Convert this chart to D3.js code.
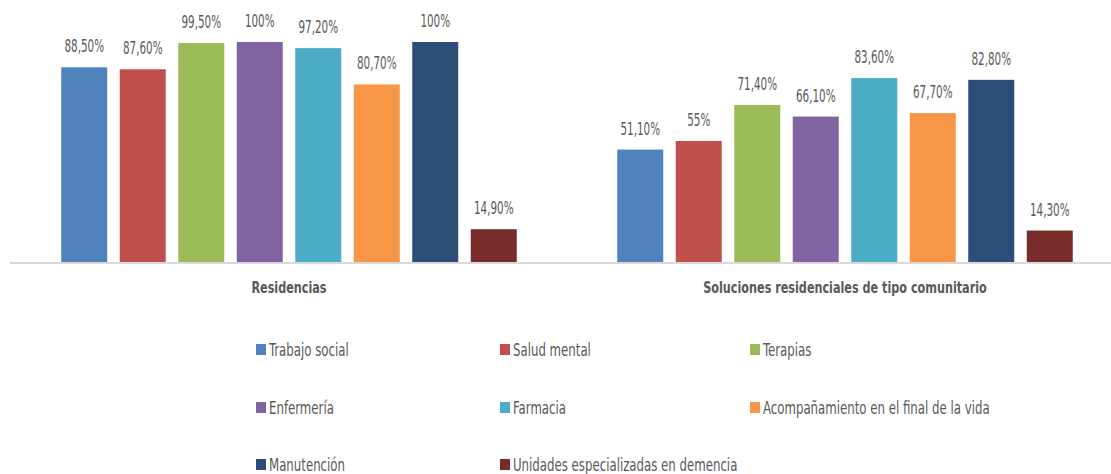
<!DOCTYPE html>
<html>
<head>
<meta charset="utf-8">
<script src="https://cdn.jsdelivr.net/npm/d3@7"></script>
<style>
  html, body { margin: 0; padding: 0; background: #fff; }
  svg text { font-family: 'Liberation Sans Narrow', 'DejaVu Sans Condensed', 'Arial Narrow', sans-serif; fill: #595959; }
</style>
</head>
<body>
<svg id="chart" width="1111" height="474"></svg>
<script>
// Settings (groups along the x axis)
const groups = ["Residencias", "Soluciones residenciales de tipo comunitario"];

// Services offered (legend entries / series)
const series = [
  "Trabajo social",
  "Salud mental",
  "Terapias",
  "Enfermería",
  "Farmacia",
  "Acompañamiento en el final de la vida",
  "Manutención",
  "Unidades especializadas en demencia"
];

// Percentage of centres offering each service, per group
const residencias = [88.5, 87.6, 99.5, 100, 97.2, 80.7, 100, 14.9];
const comunitario = [51.1, 55, 71.4, 66.1, 83.6, 67.7, 82.8, 14.3];

// Value labels as printed
const labelsResidencias = ["88,50%", "87,60%", "99,50%", "100%", "97,20%", "80,70%", "100%", "14,90%"];
const labelsComunitario = ["51,10%", "55%", "71,40%", "66,10%", "83,60%", "67,70%", "82,80%", "14,30%"];

const colors = ["#4F81BD", "#C0504D", "#9BBB59", "#8064A2", "#4BACC6", "#F79646", "#2C4D75", "#772C2A"];

const svg = d3.select("#chart");

const rows = [
  { group: groups[0], values: residencias, labels: labelsResidencias },
  { group: groups[1], values: comunitario, labels: labelsComunitario }
];

const x0 = d3.scaleBand().domain(groups).range([11, 1123]).paddingInner(0).paddingOuter(0);
const x1 = d3.scaleBand().domain(series).range([0, x0.bandwidth()]).paddingInner(0.2137).paddingOuter(0.859);
const y = d3.scaleLinear().domain([0, 100]).range([262, 42]);
const color = d3.scaleOrdinal().domain(series).range(colors);

// Bars
const g = svg.selectAll("g.group")
  .data(rows)
  .join("g")
  .attr("class", "group")
  .attr("transform", d => `translate(${x0(d.group)},0)`);

const cells = d => series.map((s, i) => ({ s, v: d.values[i], label: d.labels[i] }));

g.selectAll("rect")
  .data(cells)
  .join("rect")
  .attr("x", d => x1(d.s))
  .attr("y", d => y(d.v))
  .attr("width", x1.bandwidth())
  .attr("height", d => y(0) - y(d.v))
  .attr("fill", d => color(d.s));

// Value labels (narrow type, horizontally condensed)
g.selectAll("text.value")
  .data(cells)
  .join("text")
  .attr("class", "value")
  .attr("transform", d => `translate(${x1(d.s) + x1.bandwidth() / 2},${y(d.v) - 15}) scale(0.68,1)`)
  .attr("text-anchor", "middle")
  .style("font-size", "17px")
  .text(d => d.label);

// Category axis line
svg.append("line")
  .attr("x1", 10).attr("x2", 1111)
  .attr("y1", y(0) + 1).attr("y2", y(0) + 1)
  .attr("stroke", "#D9D9D9")
  .attr("stroke-width", 2);

// Category labels
svg.selectAll("text.cat")
  .data(groups)
  .join("text")
  .attr("class", "cat")
  .attr("transform", d => `translate(${x0(d) + x0.bandwidth() / 2},293) scale(0.78,1)`)
  .attr("text-anchor", "middle")
  .style("font-size", "16px")
  .style("font-weight", "bold")
  .text(d => d);

// Legend: three columns, three rows
const legendX = [256, 500, 750];
const legendY = [350, 408, 465];
const legend = svg.selectAll("g.legend")
  .data(series)
  .join("g")
  .attr("class", "legend")
  .attr("transform", (d, i) => `translate(${legendX[i % 3]},${legendY[Math.floor(i / 3)]})`);

legend.append("rect")
  .attr("x", 0).attr("y", -6)
  .attr("width", 10).attr("height", 11)
  .attr("fill", d => color(d));

legend.append("text")
  .attr("transform", "translate(13,6) scale(0.77,1)")
  .style("font-size", "17px")
  .text(d => d);
</script>
</body>
</html>
